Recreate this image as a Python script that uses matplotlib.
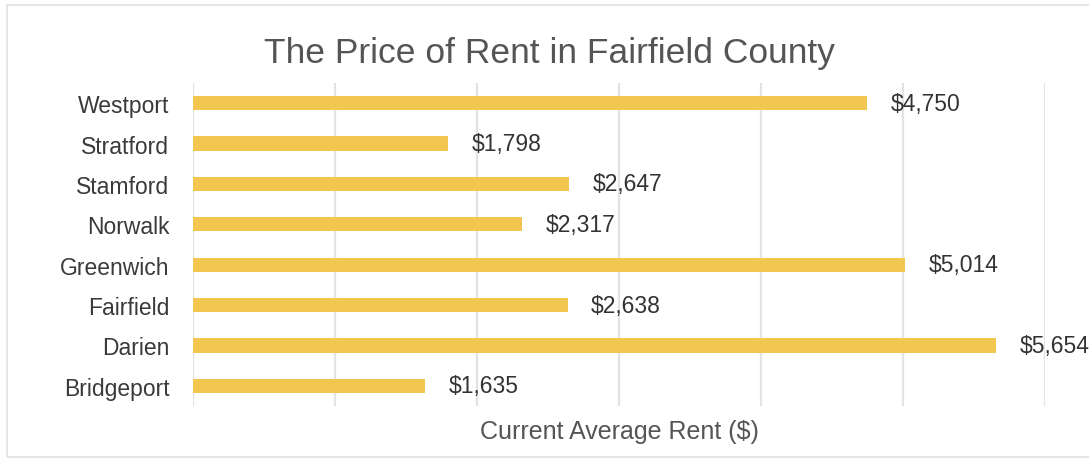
import matplotlib.pyplot as plt
from matplotlib.patches import Rectangle

# data (bottom to top)
towns = ['Bridgeport', 'Darien', 'Fairfield', 'Greenwich', 'Norwalk', 'Stamford', 'Stratford', 'Westport']
rents = [1635, 5654, 2638, 5014, 2317, 2647, 1798, 4750]

plt.rcParams['font.family'] = ['Liberation Sans', 'DejaVu Sans']

W, H = 1089, 460
fig = plt.figure(figsize=(W / 100, H / 100), dpi=100)
ax = fig.add_axes([193 / W, 1 - 407 / H, (1045 - 193) / W, (407 - 84) / H])

bar_color = '#F1C750'
text_color = '#555555'

ax.barh(range(len(towns)), rents, height=0.35, color=bar_color, zorder=3)

for i, v in enumerate(rents):
    ax.annotate(f'${v:,}', (v, i), xytext=(17, 0), textcoords='offset points',
                va='center', ha='left', fontsize=16.5, color='#333333')

ax.set_xlim(0, 6000)
ax.set_ylim(-0.5, len(towns) - 0.5)
ax.set_xticks(range(0, 6001, 1000))
ax.set_xticklabels([])
ax.set_yticks(range(len(towns)))
ax.set_yticklabels(towns)
ax.tick_params(axis='both', length=0)
ax.tick_params(axis='y', pad=17, labelsize=16.5, labelcolor='#3a3a3a')
ax.grid(axis='x', color='#e3e3e3', linewidth=1.6, zorder=0)
for s in ax.spines.values():
    s.set_visible(False)

ax.set_xlabel('Current Average Rent ($)', fontsize=18, color=text_color, labelpad=6)

fig.text(549 / W, 1 - 53 / H, 'The Price of Rent in Fairfield County', ha='center', va='center',
         fontsize=25.5, color=text_color)

# light frame around the chart
fig.patches.append(Rectangle((7 / W, 1 - 458 / H), 1.1, (458 - 6) / H, transform=fig.transFigure,
                             fill=False, edgecolor='#e6e6e6', linewidth=1.5))

plt.savefig('out.png', dpi=100)
